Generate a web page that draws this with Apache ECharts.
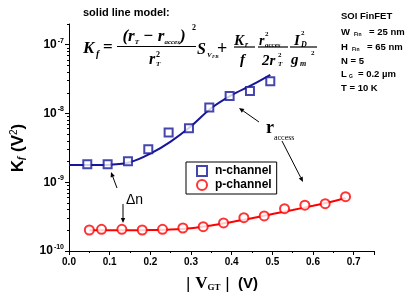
<!DOCTYPE html>
<html><head><meta charset="utf-8">
<script src="https://cdn.jsdelivr.net/npm/echarts@6/dist/echarts.min.js"></script>
<style>html,body{margin:0;padding:0;background:#fff}#c{width:406px;height:300px}</style>
</head><body><div id="c"></div>
<script>
// measured points
var nX = [0.045,0.095,0.145,0.195,0.245,0.295,0.345,0.395,0.445,0.495];
var nY = [1.83e-9,1.83e-9,2.02e-9,3.02e-9,5.27e-9,6.1e-9,1.22e-8,1.79e-8,2.13e-8,2.95e-8];
var pX = [0.05,0.08,0.13,0.18,0.23,0.28,0.33,0.38,0.43,0.48,0.53,0.58,0.63,0.68];
var pY = [2.02e-10,2.07e-10,2.07e-10,2.02e-10,2.07e-10,2.16e-10,2.26e-10,2.56e-10,3.05e-10,3.23e-10,4.13e-10,4.63e-10,4.88e-10,6.17e-10];
// model (solid lines)
var nFitX = [0,0.05,0.1,0.15,0.2,0.25,0.3,0.35,0.4,0.45,0.495];
var nFitY = [1.78e-9,1.78e-9,1.8e-9,1.95e-9,2.6e-9,3.9e-9,6.5e-9,1.2e-8,1.85e-8,2.6e-8,3.65e-8];
var pFitX = [0.05,0.1,0.15,0.2,0.25,0.3,0.35,0.4,0.45,0.5,0.55,0.6,0.65,0.68];
var pFitY = [2.0e-10,2.0e-10,2.0e-10,2.02e-10,2.06e-10,2.15e-10,2.35e-10,2.65e-10,3.0e-10,3.45e-10,3.95e-10,4.55e-10,5.3e-10,5.9e-10];
// axis ticks
var yMajor = [1e-10,1e-9,1e-8,1e-7];
var yMinorMult = [2,3,4,5,6,7,8,9];

function zip(a,b){return a.map(function(v,i){return [v,b[i]];});}
var yMinor = [];
yMajor.forEach(function(d){yMinorMult.forEach(function(m){var v=m*d; if(v<=2e-7) yMinor.push(v);});});

var NAVY = '#16169a', RED = '#ff0000';
var SERIF = 'Liberation Serif', SANS = 'Liberation Sans';

function T(x,y,text,size,o){
  o = o||{};
  return {type:'text', x:x, y:y, z:10, rotation:o.rot||0,
    style:{text:text, fontSize:size, fontFamily:o.ff||SERIF, fontWeight:o.fw||'bold',
      fontStyle:o.fs===undefined?'italic':o.fs, fill:'#000', align:o.align||'left', verticalAlign:o.va||'middle', rich:o.rich}};
}
function L(x1,y1,x2,y2,w){return {type:'line', z:10, shape:{x1:x1,y1:y1,x2:x2,y2:y2}, style:{stroke:'#000', lineWidth:w||1}};}
function arrow(x1,y1,x2,y2){
  var a=Math.atan2(y2-y1,x2-x1), h=5, s=2.2;
  var bx=x2-h*Math.cos(a), by=y2-h*Math.sin(a);
  return [L(x1,y1,bx,by,1),
    {type:'polygon', z:10, shape:{points:[[x2,y2],[bx+s*Math.sin(a),by-s*Math.cos(a)],[bx-s*Math.sin(a),by+s*Math.cos(a)]]}, style:{fill:'#000'}}];
}
var g = [];
// title
g.push(T(83,13,'solid line model:',11,{ff:SANS,fs:'normal'}));
// formula
g.push(T(83,49,'K',17));
g.push(T(96,54,'f',10));
g.push(T(103,48,'=',17,{fs:'normal'}));
g.push(T(154,37,'{a|(r}{s|T}{a| − r}{s|acces}{a|)}',17,{align:'center',rich:{
  a:{fontSize:17,fontFamily:SERIF,fontWeight:'bold',fontStyle:'italic'},
  s:{fontSize:7,fontFamily:SERIF,fontWeight:'bold',fontStyle:'italic',verticalAlign:'bottom',padding:[6,0,0,0]}}}));
g.push(T(192,28,'2',8,{fs:'normal'}));
g.push(L(117,46.5,196,46.5,1.2));
g.push(T(149,60,'r',16));
g.push(T(156,55,'2',8,{fs:'normal'}));
g.push(T(156,64,'T',7));
g.push(T(197,50,'S',16));
g.push(T(207,55,'V',7));
g.push(T(212,57,'FB',5));
g.push(T(217,49,'+',18,{fs:'normal'}));
g.push(T(234,41,'K',15));
g.push(T(245,45,'r',8));
g.push(L(234,47,255,47,1.2));
g.push(T(240,60,'f',15));
g.push(T(259,41,'r',14));
g.push(T(265,34,'2',7,{fs:'normal'}));
g.push(T(265,45,'acces',7));
g.push(L(258,47,288,47,1.2));
g.push(T(262,61,'2r',15));
g.push(T(278,55,'2',7,{fs:'normal'}));
g.push(T(278,64,'T',7));
g.push(T(294,41,'I',15));
g.push(T(301,33,'2',7,{fs:'normal'}));
g.push(T(301,45,'D',8));
g.push(L(290,47,317,47,1.2));
g.push(T(291,60,'g',15));
g.push(T(300,64,'m',8));
g.push(T(311,53,'2',7,{fs:'normal'}));
// parameters
var pr = {ff:SANS,fs:'normal'};
g.push(T(341,16,'SOI FinFET',9.5,pr));
g.push(T(341,32,'W',9.5,pr)); g.push(T(354,35,'Fin',5,pr)); g.push(T(369,32,'= 25 nm',9.5,pr));
g.push(T(341,47,'H',9.5,pr)); g.push(T(352,50,'Fin',5,pr)); g.push(T(367,47,'= 65 nm',9.5,pr));
g.push(T(341,61,'N = 5',9.5,pr));
g.push(T(341,74,'L',9.5,pr)); g.push(T(349,77,'G',5,pr)); g.push(T(358,74,'= 0.2 µm',9.5,pr));
g.push(T(341,88,'T = 10 K',9.5,pr));
// axis names
g.push(T(18,148,'{a|K}{s|f}{a| (V}{p|2}{a|)}',17,{ff:SANS,fs:'normal',align:'center',rot:Math.PI/2,rich:{
  a:{fontSize:17,fontFamily:SANS,fontWeight:'bold'},
  s:{fontSize:10,fontFamily:SERIF,fontWeight:'bold',fontStyle:'italic',verticalAlign:'bottom',padding:[5,0,0,0]},
  p:{fontSize:10,fontFamily:SANS,fontWeight:'normal',verticalAlign:'top'}}}));
g.push(T(222,284,'{b|| }{v|V}{s|GT}{b| |}{a|  (V)}',15,{ff:SANS,fs:'normal',align:'center',rich:{
  b:{fontSize:17,fontFamily:SANS,fontWeight:'normal'},
  v:{fontSize:17,fontFamily:SERIF,fontWeight:'bold'},
  s:{fontSize:9,fontFamily:SERIF,fontWeight:'bold',verticalAlign:'bottom',padding:[8,0,0,0]},
  a:{fontSize:15,fontFamily:SANS,fontWeight:'bold'}}}));
// annotations
g.push(T(126,200,'Δn',14,{ff:SANS,fs:'normal',fw:'normal'}));
g = g.concat(arrow(117,188,111,172));
g = g.concat(arrow(123,204,123,223));
g.push(T(266,128,'r',18,{fs:'normal'}));
g.push(T(274,138,'access',8,{fs:'normal',fw:'normal'}));
g = g.concat(arrow(259,122,239,108));
g = g.concat(arrow(282,141,303,182));

var axisLbl = {fontFamily:SANS, fontWeight:'bold', fontSize:10, color:'#000'};
var option = {
  animation:false,
  backgroundColor:'#fff',
  grid:{left:69, right:32, top:24, bottom:49},
  legend:{left:186, top:162, orient:'vertical', data:['n-channel','p-channel'],
    borderColor:'#000', borderWidth:1, borderRadius:0, padding:[3,5,3,10], itemGap:2,
    itemWidth:10, itemHeight:10,
    textStyle:{fontFamily:SANS, fontSize:12, fontWeight:'bold', color:'#000', padding:[0,0,0,3]}},
  xAxis:{type:'value', min:0, max:0.75, interval:0.1,
    axisLine:{lineStyle:{color:'#000', width:1}},
    axisTick:{length:4, lineStyle:{color:'#000'}},
    minorTick:{show:true, splitNumber:2, length:2, lineStyle:{color:'#000'}},
    splitLine:{show:false}, minorSplitLine:{show:false},
    axisLabel:Object.assign({margin:6, showMaxLabel:false, formatter:function(v){return v.toFixed(1);}}, axisLbl)},
  yAxis:[{type:'log', logBase:10, min:1e-10, max:2e-7,
    axisLine:{show:true, lineStyle:{color:'#000', width:1}},
    axisTick:{show:true, length:4, lineStyle:{color:'#000'}, customValues:yMajor},
    splitLine:{show:false},
    axisLabel:{customValues:yMajor, margin:5,
      formatter:function(v){var e=Math.round(Math.log10(v)); if(Math.abs(Math.log10(v)-e)>1e-6) return ''; return '{b|10}{e|'+e+'}';},
      rich:{b:{fontFamily:SANS,fontWeight:'bold',fontSize:12,color:'#000',lineHeight:12},
            e:{fontFamily:SANS,fontWeight:'bold',fontSize:7,color:'#000',lineHeight:8,padding:[0,0,8,1]}}}},
   {type:'log', logBase:10, min:1e-10, max:2e-7, position:'left',
    axisLine:{show:false}, splitLine:{show:false}, axisLabel:{show:false},
    axisTick:{show:true, length:2, lineStyle:{color:'#000'}, customValues:yMinor}}],
  series:[
    {name:'n-fit', type:'line', data:zip(nFitX,nFitY), showSymbol:false, smooth:0.3, lineStyle:{color:NAVY,width:2}, z:2},
    {name:'p-fit', type:'line', data:zip(pFitX,pFitY), showSymbol:false, smooth:0.3, lineStyle:{color:RED,width:2}, z:2},
    {name:'n-channel', type:'scatter', data:zip(nX,nY), symbol:'rect', symbolSize:8,
      itemStyle:{color:'#fff', borderColor:NAVY, borderWidth:2}, z:3},
    {name:'p-channel', type:'scatter', data:zip(pX,pY), symbol:'circle', symbolSize:9,
      itemStyle:{color:'#fff', borderColor:RED, borderWidth:2}, z:3}
  ],
  graphic:g
};
var chart = echarts.init(document.getElementById('c'), null, {renderer:'canvas'});
chart.setOption(option);
</script></body></html>
